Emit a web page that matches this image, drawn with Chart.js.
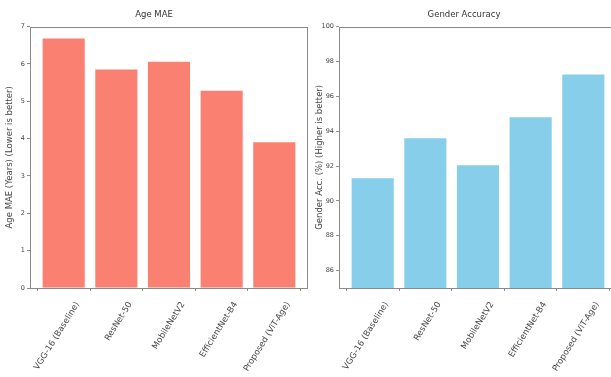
<!DOCTYPE html>
<html>
<head>
<meta charset="utf-8">
<script src="https://cdn.jsdelivr.net/npm/chart.js@4"></script>
<style>
html,body{margin:0;padding:0;background:#fff;overflow:hidden;width:611px;height:377px;}
#c1{position:absolute;left:0;top:0;}
#c2{position:absolute;left:311px;top:0;}
</style>
</head>
<body>
<canvas id="c1" width="311" height="377"></canvas>
<canvas id="c2" width="306" height="377"></canvas>
<script>
const models = ["VGG-16 (Baseline)", "ResNet-50", "MobileNetV2", "EfficientNet-B4", "Proposed (ViT-Age)"];
const ageMae = [6.68, 5.85, 6.06, 5.28, 3.9];
const genderAcc = [91.3, 93.6, 92.05, 94.8, 97.25];
const ageTicks = [0, 7, 1];      // min, max, step
const genderTicks = [85, 100, 2]; // min, max, step

const FONT = "'DejaVu Sans', sans-serif";

const frame = {
  id: 'frame',
  afterDatasetsDraw(chart) {
    const a = chart.chartArea, ctx = chart.ctx;
    ctx.save();
    ctx.strokeStyle = '#8a8a8a';
    ctx.lineWidth = 1;
    ctx.strokeRect(Math.round(a.left) + 0.5, Math.round(a.top) + 0.5,
                   Math.round(a.right - a.left) - 1, Math.round(a.bottom - a.top));
    ctx.restore();
  }
};

function makeChart(id, title, ylabel, values, color, yt, yWidth, padRight, ylabPad) {
  return new Chart(document.getElementById(id), {
    type: 'bar',
    data: {
      datasets: [{
        data: models.map((m, i) => ({x: i, y: values[i]})),
        backgroundColor: color,
        borderWidth: 0,
        barPercentage: 0.8,
        categoryPercentage: 1.0
      }]
    },
    plugins: [frame],
    options: {
      responsive: false,
      animation: false,
      devicePixelRatio: 1,
      layout: {padding: {left: 0, right: padRight, top: 0, bottom: 0}},
      plugins: {
        legend: {display: false},
        tooltip: {enabled: false},
        title: {
          display: true, text: title, color: '#333',
          font: {family: FONT, size: 8.5, weight: 'normal'},
          padding: {top: 10, bottom: 6.4}
        }
      },
      scales: {
        x: {
          type: 'linear', min: -0.64, max: 4.64, offset: false,
          afterFit(s) { s.height = 89; },
          grid: {display: true, drawOnChartArea: false, tickLength: 3, color: '#8a8a8a'},
          border: {display: false},
          ticks: {
            stepSize: 1, includeBounds: false, autoSkip: false,
            maxRotation: 58, minRotation: 58, padding: 9, labelOffset: 14,
            color: '#444', font: {family: FONT, size: 8.5},
            callback: v => (Number.isInteger(v) && models[v] !== undefined) ? models[v] : ''
          }
        },
        y: {
          min: yt[0], max: yt[1],
          afterFit(s) { s.width = yWidth; },
          grid: {display: true, drawOnChartArea: false, tickLength: 3, color: '#8a8a8a'},
          border: {display: false},
          title: {display: true, text: ylabel, color: '#444', font: {family: FONT, size: 8.5}, padding: {top: ylabPad, bottom: 0}},
          ticks: {stepSize: yt[2], includeBounds: false, padding: 2, color: '#444', font: {family: FONT, size: 6.5}}
        }
      }
    }
  });
}

makeChart('c1', 'Age MAE', 'Age MAE (Years) (Lower is better)', ageMae, '#FA8072', ageTicks, 30, 3, 5);
makeChart('c2', 'Gender Accuracy', 'Gender Acc. (%) (Higher is better)', genderAcc, '#87CEEB', genderTicks, 28, 0, 4);
</script>
</body>
</html>
